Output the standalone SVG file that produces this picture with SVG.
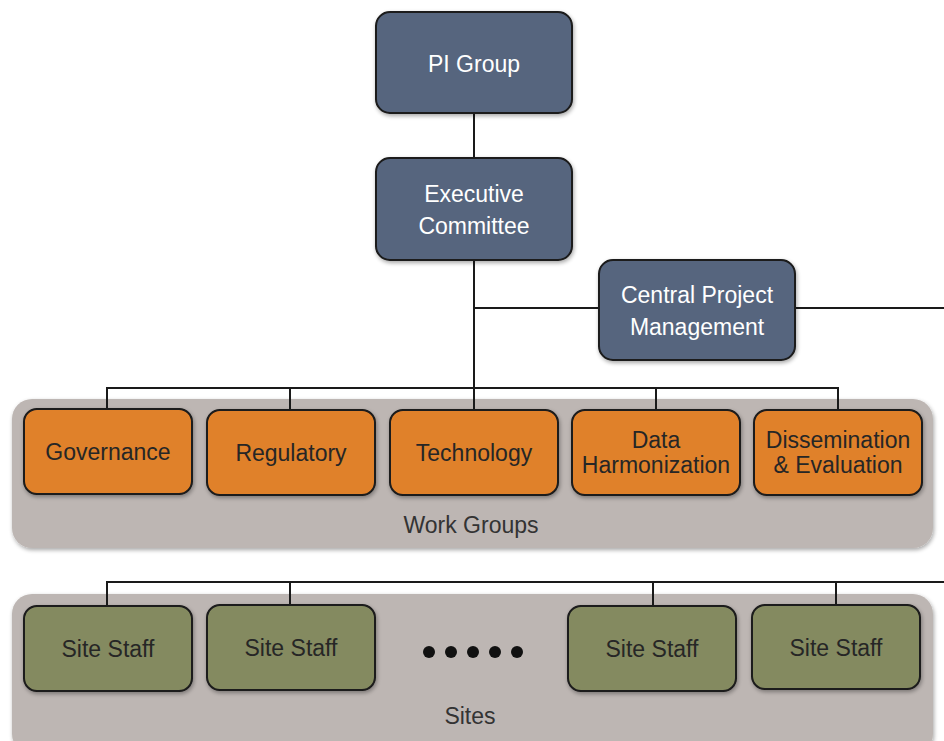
<svg xmlns="http://www.w3.org/2000/svg" width="944" height="741" viewBox="0 0 944 741">
<defs>
<filter id="sh" x="-10%" y="-10%" width="130%" height="130%">
<feGaussianBlur in="SourceAlpha" stdDeviation="2"/>
<feOffset dx="1" dy="2"/>
<feComponentTransfer><feFuncA type="linear" slope="0.35"/></feComponentTransfer>
<feMerge><feMergeNode/><feMergeNode in="SourceGraphic"/></feMerge>
</filter>
</defs>
<style>
text{font-family:"Liberation Sans",Arial,sans-serif;font-size:23px;text-anchor:middle}
.blue rect{fill:#56657e;stroke:#1a1a1a;stroke-width:2}
.blue text{fill:#ffffff}
.orange rect{fill:#e0812c;stroke:#1a1a1a;stroke-width:2}
.orange text{fill:#262626}
.green rect{fill:#848a60;stroke:#1a1a1a;stroke-width:2}
.green text{fill:#262626}
.panel rect{fill:#bdb6b3}
.panel text{fill:#333333}
.conn{fill:none;stroke:#1a1a1a;stroke-width:2}
</style>
<rect width="944" height="741" fill="#ffffff"/>
<g id="workgroups-panel" class="panel">
<rect x="12" y="399" width="921" height="149" rx="20" filter="url(#sh)"/>
<text x="471" y="533">Work Groups</text>
</g>
<g id="sites-panel" class="panel">
<rect x="12" y="594" width="921" height="160" rx="20" filter="url(#sh)"/>
<text x="470" y="724">Sites</text>
</g>
<g id="connectors" class="conn">
<line x1="474" y1="113" x2="474" y2="158"/>
<line x1="474" y1="260" x2="474" y2="410"/>
<line x1="474" y1="308" x2="599" y2="308"/>
<line x1="795" y1="308" x2="944" y2="308"/>
<polyline points="107,409 107,388 838,388 838,409"/>
<line x1="290" y1="388" x2="290" y2="409"/>
<line x1="656" y1="388" x2="656" y2="409"/>
<polyline points="107,606 107,582 944,582"/>
<line x1="290" y1="582" x2="290" y2="606"/>
<line x1="653" y1="582" x2="653" y2="606"/>
<line x1="836" y1="582" x2="836" y2="606"/>
</g>
<g id="pi-group" class="blue">
<rect x="376" y="12" width="196" height="101" rx="14" filter="url(#sh)"/>
<text x="474" y="72">PI Group</text>
</g>
<g id="executive-committee" class="blue">
<rect x="376" y="158" width="196" height="102" rx="14" filter="url(#sh)"/>
<text x="474" y="202">Executive</text>
<text x="474" y="234">Committee</text>
</g>
<g id="central-project-management" class="blue">
<rect x="599" y="260" width="196" height="100" rx="14" filter="url(#sh)"/>
<text x="697" y="303">Central Project</text>
<text x="697" y="335">Management</text>
</g>
<g id="governance" class="orange">
<rect x="24" y="409" width="168" height="85" rx="13" filter="url(#sh)"/>
<text x="108" y="460">Governance</text>
</g>
<g id="regulatory" class="orange">
<rect x="207" y="410" width="168" height="85" rx="13" filter="url(#sh)"/>
<text x="291" y="461">Regulatory</text>
</g>
<g id="technology" class="orange">
<rect x="390" y="410" width="168" height="85" rx="13" filter="url(#sh)"/>
<text x="474" y="461">Technology</text>
</g>
<g id="data-harmonization" class="orange">
<rect x="572" y="410" width="168" height="85" rx="13" filter="url(#sh)"/>
<text x="656" y="448">Data</text>
<text x="656" y="473">Harmonization</text>
</g>
<g id="dissemination-evaluation" class="orange">
<rect x="754" y="410" width="168" height="85" rx="13" filter="url(#sh)"/>
<text x="838" y="448">Dissemination</text>
<text x="838" y="473">&amp; Evaluation</text>
</g>
<g id="site-staff-1" class="green">
<rect x="24" y="606" width="168" height="85" rx="13" filter="url(#sh)"/>
<text x="108" y="657">Site Staff</text>
</g>
<g id="site-staff-2" class="green">
<rect x="207" y="605" width="168" height="85" rx="13" filter="url(#sh)"/>
<text x="291" y="656">Site Staff</text>
</g>
<g id="ellipsis" fill="#111111">
<circle cx="429" cy="652" r="6"/>
<circle cx="451" cy="652" r="6"/>
<circle cx="473" cy="652" r="6"/>
<circle cx="495" cy="652" r="6"/>
<circle cx="517" cy="652" r="6"/>
</g>
<g id="site-staff-3" class="green">
<rect x="568" y="606" width="168" height="85" rx="13" filter="url(#sh)"/>
<text x="652" y="657">Site Staff</text>
</g>
<g id="site-staff-4" class="green">
<rect x="752" y="605" width="168" height="84" rx="13" filter="url(#sh)"/>
<text x="836" y="656">Site Staff</text>
</g>
</svg>
